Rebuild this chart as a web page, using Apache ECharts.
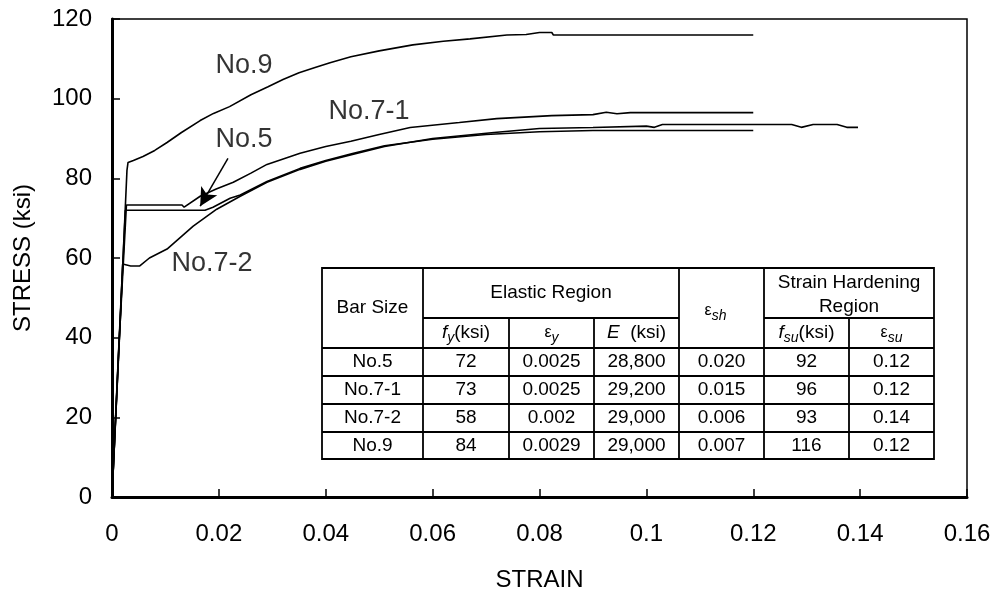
<!DOCTYPE html>
<html><head><meta charset="utf-8">
<script src="https://cdn.jsdelivr.net/npm/echarts@6/dist/echarts.min.js"></script>
<style>html,body{margin:0;padding:0;background:#fff}#c{width:998px;height:597px}</style>
</head><body><div id="c"></div>
<script>
// ---- data ----
const xTicks = ['0','0.02','0.04','0.06','0.08','0.1','0.12','0.14','0.16'];
const yTicks = ['0','20','40','60','80','100','120'];

const no9 = [[0,0],[0.0015,43],[0.0028,82],[0.003,84],[0.004,84.5],[0.0058,85.5],[0.008,87],[0.0103,89],[0.013,91.5],[0.0165,94.5],[0.019,96.3],[0.022,98],[0.026,101],[0.0292,103],[0.032,104.8],[0.035,106.5],[0.038,107.8],[0.0408,109],[0.0447,110.5],[0.05,112],[0.0563,113.5],[0.062,114.4],[0.067,115],[0.0739,116],[0.0775,116.1],[0.080,116.6],[0.0823,116.6],[0.0826,116],[0.1,116],[0.12,116]];
const no71 = [[0,0],[0.0013,38],[0.0027,73.3],[0.0131,73.3],[0.0135,72.75],[0.0165,75.5],[0.0195,77.3],[0.0227,79],[0.026,81.3],[0.029,83.5],[0.0352,86.3],[0.04,88],[0.0447,89.3],[0.05,91],[0.0558,92.75],[0.065,94],[0.072,95],[0.0823,95.75],[0.09,96],[0.0925,96.6],[0.0945,96.2],[0.097,96.5],[0.12,96.5]];
const no5 = [[0,0],[0.0012,35],[0.0025,72],[0.0174,72],[0.0189,72.75],[0.0221,75],[0.024,75.8],[0.029,79.2],[0.0352,82.5],[0.04,84.5],[0.045,86.2],[0.051,88.2],[0.06,89.8],[0.07,91],[0.08,91.7],[0.09,92],[0.1,92],[0.12,92]];
const no72 = [[0,0],[0.001,30],[0.002,58.5],[0.0035,58],[0.0052,58],[0.007,60],[0.0103,62.25],[0.0152,68],[0.0196,72.25],[0.024,75.5],[0.029,79],[0.0352,82.25],[0.04,84.3],[0.045,86],[0.051,88],[0.06,90],[0.0715,91.5],[0.08,92.5],[0.09,92.75],[0.1,93.1],[0.1015,92.8],[0.103,93.5],[0.1272,93.5],[0.129,92.8],[0.1312,93.5],[0.1357,93.5],[0.1375,92.8],[0.1396,92.8]];

const curveLabels = ['No.9','No.7-1','No.5','No.7-2'];
const labelAnchors = [[0.0247,108.4],[0.0481,96.75],[0.0247,89.75],[0.0187,58.5]];
const arrowFrom = [0.0217,85];
const arrowTo = [0.0165,73];

const tableBars = ['No.5','No.7-1','No.7-2','No.9'];
const tableFy = ['72','73','58','84'];
const tableEy = ['0.0025','0.0025','0.002','0.0029'];
const tableE = ['28,800','29,200','29,000','29,000'];
const tableEsh = ['0.020','0.015','0.006','0.007'];
const tableFsu = ['92','96','93','116'];
const tableEsu = ['0.12','0.12','0.14','0.12'];

// ---- rendering ----
const FONT = 'Liberation Sans, Arial, sans-serif';
const chart = echarts.init(document.getElementById('c'));

const colX = [322,423,509,594,679,764,849,934];
const rowY = [268,318,348,376,404,432,459];
const g = [];
const LW = 1.8;
function line(x1,y1,x2,y2){ g.push({type:'line',z:100,shape:{x1,y1,x2,y2},style:{stroke:'#000',lineWidth:LW}}); }
const rich = {
  i:{fontSize:19,fontStyle:'italic',fontFamily:FONT,lineHeight:24},
  n:{fontSize:19,fontFamily:FONT,lineHeight:24},
  e:{fontSize:16,fontFamily:FONT,lineHeight:24},
  s:{fontSize:14,fontStyle:'italic',fontFamily:FONT,lineHeight:14,verticalAlign:'bottom'}
};
function text(x,y,t,size){ g.push({type:'text',z:101,x,y,style:{text:t,fontSize:size||19,fontFamily:FONT,fill:'#000',align:'center',verticalAlign:'middle',rich}}); }
g.push({type:'rect',z:99,shape:{x:colX[0],y:rowY[0],width:colX[7]-colX[0],height:rowY[6]-rowY[0]},style:{fill:'#fff',stroke:'#000',lineWidth:LW}});
line(colX[1],rowY[1],colX[4],rowY[1]);
line(colX[5],rowY[1],colX[7],rowY[1]);
for(let r=2;r<6;r++) line(colX[0],rowY[r],colX[7],rowY[r]);
[1,4,5].forEach(c=>line(colX[c],rowY[0],colX[c],rowY[6]));
[2,3,6].forEach(c=>line(colX[c],rowY[1],colX[c],rowY[6]));
const cx = c=>(colX[c]+colX[c+1])/2;
text(cx(0),308,'Bar Size');
text((colX[1]+colX[4])/2,293,'Elastic Region');
text(cx(4)-6,311,'{e|ε}{s|sh}');
text((colX[5]+colX[7])/2,283,'Strain Hardening');
text((colX[5]+colX[7])/2,307,'Region');
text(cx(1),333,'{i|f}{s|y}{n|(ksi)}');
text(cx(2),333,'{e|ε}{s|y}');
text(cx(3),333,'{i|E}{n|  (ksi)}');
text(cx(5),333,'{i|f}{s|su}{n|(ksi)}');
text(cx(6),333,'{e|ε}{s|su}');
const cols = [tableBars,tableFy,tableEy,tableE,tableEsh,tableFsu,tableEsu];
for(let r=0;r<4;r++){
  const y=(rowY[r+2]+rowY[r+3])/2;
  cols.forEach((col,c)=>text(cx(c),y,col[r]));
}

const curveStyle = {color:'#000',width:1.6};
function curve(name,data){
  return {name,type:'line',data,showSymbol:false,symbol:'none',lineStyle:curveStyle,itemStyle:{color:'#000'},silent:true,z:3};
}
const option = {
  animation:false,
  backgroundColor:'#fff',
  grid:{left:112,right:31,top:19,bottom:98,show:true,borderColor:'#000',borderWidth:1.5,backgroundColor:'transparent'},
  xAxis:{type:'value',min:0,max:0.16,interval:0.02,
    name:'STRAIN',nameLocation:'middle',nameGap:71,nameTextStyle:{fontSize:24,fontFamily:FONT,color:'#000'},
    axisLine:{show:true,onZero:false,lineStyle:{color:'#000',width:3}},
    axisTick:{show:true,inside:true,length:8,lineStyle:{color:'#000',width:1.5}},
    axisLabel:{fontSize:24,fontFamily:FONT,color:'#000',margin:25,formatter:v=>xTicks[Math.round(v/0.02)]},
    splitLine:{show:false}},
  yAxis:{type:'value',min:0,max:120,interval:20,
    name:'STRESS (ksi)',nameLocation:'middle',nameGap:77,nameRotate:90,nameTextStyle:{fontSize:24,fontFamily:FONT,color:'#000'},
    axisLine:{show:true,onZero:false,lineStyle:{color:'#000',width:3}},
    axisTick:{show:true,inside:true,length:8,lineStyle:{color:'#000',width:1.5}},
    axisLabel:{fontSize:24,fontFamily:FONT,color:'#000',margin:20,formatter:v=>yTicks[Math.round(v/20)]},
    splitLine:{show:false}},
  series:[
    curve('No.9',no9),
    curve('No.7-1',no71),
    Object.assign(curve('No.5',no5),{markLine:{silent:true,symbol:['none','arrow'],symbolSize:[14,18],label:{show:false},
      lineStyle:{color:'#000',width:1.5,type:'solid'},data:[[{coord:arrowFrom},{coord:arrowTo}]]}}),
    curve('No.7-2',no72),
    {type:'scatter',silent:true,symbolSize:1,itemStyle:{color:'rgba(0,0,0,0)'},
      data:labelAnchors.map((p,i)=>({value:p,name:curveLabels[i]})),
      label:{show:true,position:'inside',formatter:p=>p.name,fontSize:27,fontFamily:FONT,color:'#000'}}
  ],
  graphic:g
};
chart.setOption(option);
</script></body></html>
